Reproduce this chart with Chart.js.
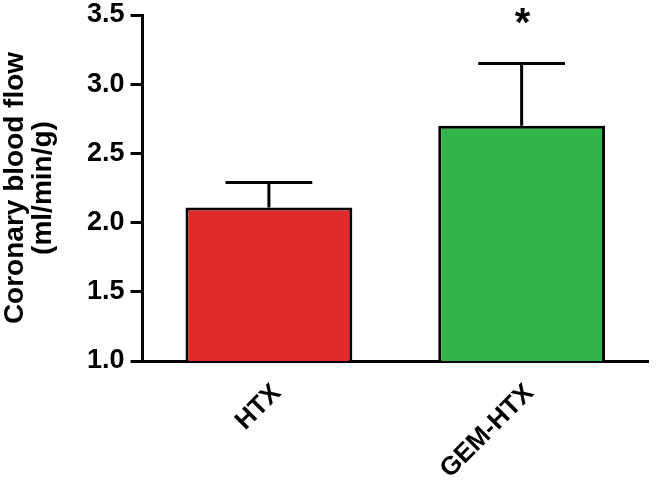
<!DOCTYPE html>
<html>
<head>
<meta charset="utf-8">
<title>Coronary blood flow</title>
<script src="https://cdn.jsdelivr.net/npm/chart.js@4/dist/chart.umd.min.js"></script>
<style>
  html, body { margin: 0; padding: 0; background: #fff; }
  #wrap { width: 666px; height: 484px; }
</style>
</head>
<body>
<div id="wrap"><canvas id="flowChart"></canvas></div>
<script>
// datos
const groups = ['HTX', 'GEM-HTX'];
const meanFlow = [2.11, 2.70];
const semUpper = [2.29, 3.15];
const signif = ['', '*'];
const yTicks = [1.0, 1.5, 2.0, 2.5, 3.0, 3.5];
const barColors = ['rgb(224, 43, 43)', 'rgb(51, 180, 74)'];

const FONT = '"Liberation Sans", Arial, Helvetica, sans-serif';

// barras de error (solo hacia arriba) y asterisco
const errorBars = {
    id: 'errorBars',
    afterDatasetsDraw(chart) {
        const ctx = chart.ctx;
        const y = chart.scales.y;
        const meta = chart.getDatasetMeta(0);
        ctx.save();
        ctx.strokeStyle = '#000';
        ctx.lineWidth = 3;
        meta.data.forEach((bar, i) => {
            const capY = y.getPixelForValue(semUpper[i]);
            const half = bar.width * 0.26;
            ctx.beginPath();
            ctx.moveTo(bar.x, bar.y);
            ctx.lineTo(bar.x, capY);
            ctx.moveTo(bar.x - half, capY);
            ctx.lineTo(bar.x + half, capY);
            ctx.stroke();
            if (signif[i]) {
                ctx.fillStyle = '#000';
                ctx.font = 'bold 40px ' + FONT;
                ctx.textAlign = 'center';
                ctx.textBaseline = 'middle';
                ctx.fillText(signif[i], bar.x + 1, capY - 38);
            }
        });
        ctx.restore();
    }
};

new Chart(document.getElementById('flowChart'), {
    type: 'bar',
    data: {
        labels: groups,
        datasets: [{
            data: meanFlow,
            backgroundColor: barColors,
            borderColor: '#000',
            borderWidth: 3,
            borderSkipped: false,
            barPercentage: 0.66,
            categoryPercentage: 1.0
        }]
    },
    options: {
        responsive: true,
        maintainAspectRatio: false,
        animation: false,
        layout: { padding: { top: 15, right: 18, bottom: 0, left: 1 } },
        plugins: {
            legend: { display: false },
            tooltip: { enabled: false }
        },
        scales: {
            x: {
                // alto fijo del eje para que el area quede como en la figura
                afterFit: scale => { scale.height = 123; },
                grid: { display: true, drawOnChartArea: false, drawTicks: false },
                border: { display: true, color: '#000', width: 3 },
                ticks: {
                    color: '#000',
                    font: { family: FONT, size: 26, weight: 'bold' },
                    minRotation: 45,
                    maxRotation: 45,
                    padding: 17,
                    labelOffset: 8
                }
            },
            y: {
                min: 1.0,
                max: 3.5,
                afterBuildTicks: scale => {
                    scale.ticks = yTicks.map(v => ({ value: v }));
                },
                afterFit: scale => { scale.paddingTop = 0; scale.paddingBottom = 0; },
                grid: {
                    display: true,
                    drawOnChartArea: false,
                    drawTicks: true,
                    tickLength: 12,
                    tickWidth: 3,
                    tickColor: '#000'
                },
                border: { display: true, color: '#000', width: 3 },
                ticks: {
                    color: '#000',
                    font: { family: FONT, size: 27, weight: 'bold' },
                    padding: 6,
                    callback: v => v.toFixed(1)
                },
                title: {
                    display: true,
                    text: ['Coronary blood flow', '(ml/min/g)'],
                    color: '#000',
                    font: { family: FONT, size: 28, weight: 'bold', lineHeight: 1.0 },
                    padding: { top: 0, bottom: 24 }
                }
            }
        }
    },
    plugins: [errorBars]
});
</script>
</body>
</html>
